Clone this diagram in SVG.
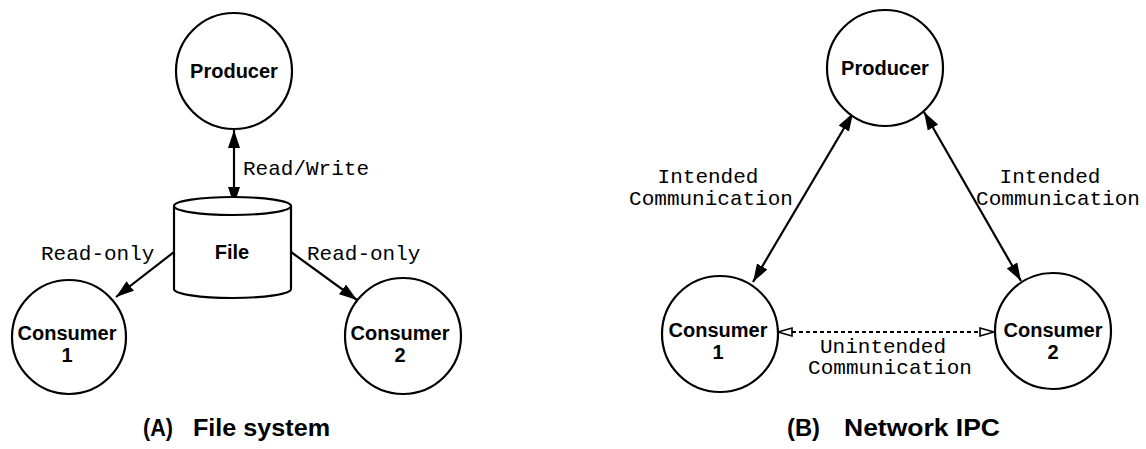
<svg xmlns="http://www.w3.org/2000/svg" width="1146" height="449" viewBox="0 0 1146 449">
<style>
.node{fill:#fff;stroke:#000;stroke-width:2.2}
.lbl{font-family:"Liberation Sans",Arial,sans-serif;font-weight:bold;font-size:20px;text-anchor:middle;fill:#000}
.mono{font-family:"Liberation Mono","Courier New",monospace;font-size:21px;fill:#000}
.cap{font-family:"Liberation Sans",Arial,sans-serif;font-weight:bold;font-size:23px;fill:#000}
.edge{stroke:#000;stroke-width:2.2;fill:none}
.dash{stroke:#000;stroke-width:2;fill:none;stroke-dasharray:4 3}
</style>
<defs>
<marker id="ah" markerUnits="userSpaceOnUse" markerWidth="20" markerHeight="14" refX="18" refY="6" orient="auto-start-reverse" viewBox="0 0 20 12">
<path d="M0,0 L18,6 L0,12 Z" fill="#000"/>
</marker>
<marker id="oh" markerUnits="userSpaceOnUse" markerWidth="18" markerHeight="12" refX="15" refY="5" orient="auto-start-reverse" viewBox="0 0 18 10">
<path d="M1,1 L15,5 L1,9 Z" fill="#fff" stroke="#000" stroke-width="1.6"/>
</marker>
</defs>
<rect width="1146" height="449" fill="#fff"/>

<g id="connectors">
<line class="edge" x1="234" y1="130" x2="234" y2="205" marker-start="url(#ah)" marker-end="url(#ah)"/>
<line class="edge" x1="174" y1="252" x2="116" y2="297" marker-end="url(#ah)"/>
<line class="edge" x1="291" y1="252" x2="357" y2="300" marker-end="url(#ah)"/>
<line class="edge" x1="853" y1="113" x2="753" y2="282" marker-start="url(#ah)" marker-end="url(#ah)"/>
<line class="edge" x1="924" y1="112" x2="1021" y2="281" marker-start="url(#ah)" marker-end="url(#ah)"/>
<line class="dash" x1="778" y1="332" x2="994" y2="332" marker-start="url(#oh)" marker-end="url(#oh)"/>
<text class="mono" x="243" y="175">Read/Write</text>
<text class="mono" x="41" y="260">Read-only</text>
<text class="mono" x="307" y="260">Read-only</text>
<text class="mono" x="708" y="183" text-anchor="middle">Intended</text>
<text class="mono" x="711" y="205" text-anchor="middle">Communication</text>
<text class="mono" x="1050" y="183" text-anchor="middle">Intended</text>
<text class="mono" x="1058" y="205" text-anchor="middle">Communication</text>
<text class="mono" x="883" y="353" text-anchor="middle">Unintended</text>
<text class="mono" x="890" y="374" text-anchor="middle">Communication</text>
</g>

<g id="producer-a">
<circle class="node" cx="234" cy="71" r="58"/>
<text class="lbl" x="234" y="78">Producer</text>
</g>
<g id="file">
<path class="node" d="M174,206 L174,289 A58.5,9 0 0 0 291,289 L291,206 A58.5,9 0 0 0 174,206 Z"/>
<path class="node" d="M174,206 A58.5,9 0 0 0 291,206" fill="none"/>
<text class="lbl" x="232" y="259">File</text>
</g>
<g id="consumer1-a">
<circle class="node" cx="69" cy="337" r="57"/>
<text class="lbl" x="67" y="340">Consumer</text>
<text class="lbl" x="67" y="362">1</text>
</g>
<g id="consumer2-a">
<circle class="node" cx="403" cy="336" r="58"/>
<text class="lbl" x="400" y="340">Consumer</text>
<text class="lbl" x="400" y="362">2</text>
</g>

<g id="producer-b">
<circle class="node" cx="885" cy="68" r="58"/>
<text class="lbl" x="885" y="75">Producer</text>
</g>
<g id="consumer1-b">
<circle class="node" cx="720" cy="334" r="58"/>
<text class="lbl" x="718" y="337">Consumer</text>
<text class="lbl" x="718" y="359">1</text>
</g>
<g id="consumer2-b">
<circle class="node" cx="1053" cy="331" r="58"/>
<text class="lbl" x="1053" y="337">Consumer</text>
<text class="lbl" x="1053" y="359">2</text>
</g>

<g id="captions">
<text class="cap" x="143" y="436" textLength="30" lengthAdjust="spacingAndGlyphs">(A)</text>
<text class="cap" x="193" y="436" textLength="137" lengthAdjust="spacingAndGlyphs">File system</text>
<text class="cap" x="787" y="436" textLength="33" lengthAdjust="spacingAndGlyphs">(B)</text>
<text class="cap" x="844" y="436" textLength="156" lengthAdjust="spacingAndGlyphs">Network IPC</text>
</g>
</svg>
